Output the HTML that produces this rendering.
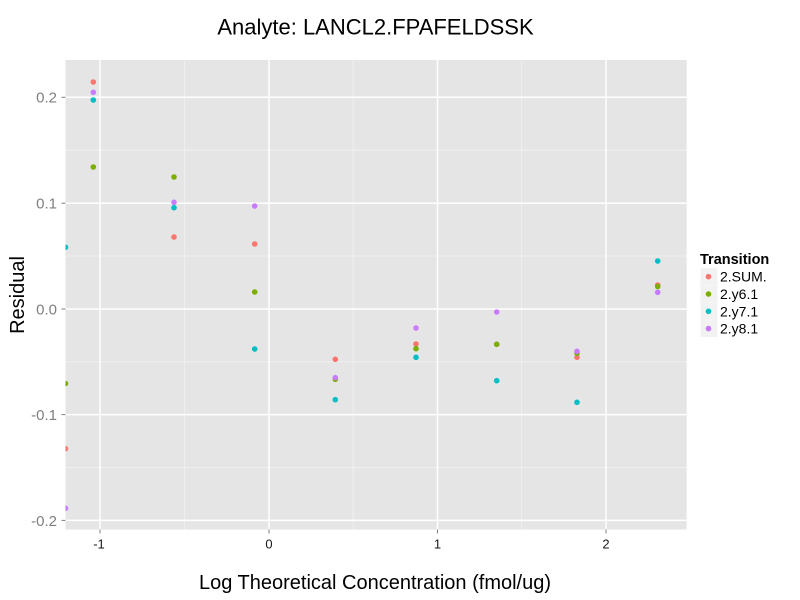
<!DOCTYPE html>
<html><head><meta charset="utf-8"><style>
html,body{margin:0;padding:0;background:#fff;}
svg{display:block;}
text{font-family:"Liberation Sans",Arial,sans-serif;}
</style></head><body>
<svg width="800" height="600" viewBox="0 0 800 600" xmlns="http://www.w3.org/2000/svg">
<defs><clipPath id="pc"><rect x="65.5" y="60" width="621.2" height="469.5"/></clipPath></defs>
<rect x="0" y="0" width="800" height="600" fill="#fff"/>
<rect x="65.5" y="60" width="621.2" height="469.5" fill="#E5E5E5"/>
<g stroke="#F2F2F2" stroke-width="0.8">
<line x1="65.5" x2="686.7" y1="150.2" y2="150.2"/>
<line x1="65.5" x2="686.7" y1="256" y2="256"/>
<line x1="65.5" x2="686.7" y1="361.9" y2="361.9"/>
<line x1="65.5" x2="686.7" y1="467.7" y2="467.7"/>
<line y1="60" y2="529.5" x1="184.5" x2="184.5"/>
<line y1="60" y2="529.5" x1="353.2" x2="353.2"/>
<line y1="60" y2="529.5" x1="521.7" x2="521.7"/>
</g>
<g stroke="#FFFFFF" stroke-width="1.5">
<line x1="65.5" x2="686.7" y1="97.3" y2="97.3"/>
<line x1="65.5" x2="686.7" y1="203.2" y2="203.2"/>
<line x1="65.5" x2="686.7" y1="309" y2="309"/>
<line x1="65.5" x2="686.7" y1="414.6" y2="414.6"/>
<line x1="65.5" x2="686.7" y1="520.4" y2="520.4"/>
<line y1="60" y2="529.5" x1="100" x2="100"/>
<line y1="60" y2="529.5" x1="269" x2="269"/>
<line y1="60" y2="529.5" x1="437.5" x2="437.5"/>
<line y1="60" y2="529.5" x1="606" x2="606"/>
</g>
<g clip-path="url(#pc)">
<g fill="#F8766D">
<circle cx="65.5" cy="448.7" r="2.8"/>
<circle cx="93.3" cy="82" r="2.8"/>
<circle cx="174" cy="237" r="2.8"/>
<circle cx="254.7" cy="244" r="2.8"/>
<circle cx="335.3" cy="359.3" r="2.8"/>
<circle cx="416" cy="344" r="2.8"/>
<circle cx="496.7" cy="344.3" r="2.8"/>
<circle cx="577" cy="357.3" r="2.8"/>
<circle cx="657.7" cy="285" r="2.8"/>
</g>
<g fill="#7CAE00">
<circle cx="65.5" cy="383.5" r="2.8"/>
<circle cx="93.3" cy="167" r="2.8"/>
<circle cx="174" cy="177" r="2.8"/>
<circle cx="254.7" cy="292" r="2.8"/>
<circle cx="335.3" cy="379.3" r="2.8"/>
<circle cx="416" cy="348.7" r="2.8"/>
<circle cx="496.7" cy="344.3" r="2.8"/>
<circle cx="577" cy="353.3" r="2.8"/>
<circle cx="657.7" cy="286.5" r="2.8"/>
</g>
<g fill="#00BFC4">
<circle cx="65.5" cy="247.3" r="2.8"/>
<circle cx="93.3" cy="100" r="2.8"/>
<circle cx="174" cy="207.7" r="2.8"/>
<circle cx="254.7" cy="349" r="2.8"/>
<circle cx="335.3" cy="399.7" r="2.8"/>
<circle cx="416" cy="357.3" r="2.8"/>
<circle cx="496.7" cy="380.7" r="2.8"/>
<circle cx="577" cy="402.3" r="2.8"/>
<circle cx="657.7" cy="261" r="2.8"/>
</g>
<g fill="#C77CFF">
<circle cx="65.5" cy="508.3" r="2.8"/>
<circle cx="93.3" cy="92.3" r="2.8"/>
<circle cx="174" cy="202.3" r="2.8"/>
<circle cx="254.7" cy="206" r="2.8"/>
<circle cx="335.3" cy="377.7" r="2.8"/>
<circle cx="416" cy="328" r="2.8"/>
<circle cx="496.7" cy="312" r="2.8"/>
<circle cx="577" cy="351.3" r="2.8"/>
<circle cx="657.7" cy="292.3" r="2.8"/>
</g>
</g>
<g stroke="#7F7F7F" stroke-width="1">
<line x1="61.5" x2="65.5" y1="97.3" y2="97.3"/>
<line x1="61.5" x2="65.5" y1="203.2" y2="203.2"/>
<line x1="61.5" x2="65.5" y1="309" y2="309"/>
<line x1="61.5" x2="65.5" y1="414.6" y2="414.6"/>
<line x1="61.5" x2="65.5" y1="520.4" y2="520.4"/>
<line y1="529.5" y2="533.5" x1="100" x2="100"/>
<line y1="529.5" y2="533.5" x1="269" x2="269"/>
<line y1="529.5" y2="533.5" x1="437.5" x2="437.5"/>
<line y1="529.5" y2="533.5" x1="606" x2="606"/>
</g>
<g font-size="15" fill="#7F7F7F" text-anchor="end">
<text x="57" y="102.7">0.2</text>
<text x="57" y="208.6">0.1</text>
<text x="57" y="314.4">0.0</text>
<text x="57" y="420">-0.1</text>
<text x="57" y="525.8">-0.2</text>
</g>
<g font-size="13" fill="#1a1a1a" text-anchor="middle">
<text x="99" y="548.7">-1</text>
<text x="269" y="548.7">0</text>
<text x="437.5" y="548.7">1</text>
<text x="606" y="548.7">2</text>
</g>
<text x="375.5" y="34.3" font-size="22" text-anchor="middle" fill="#000">Analyte: LANCL2.FPAFELDSSK</text>
<text x="375" y="589" font-size="20" text-anchor="middle" fill="#000">Log Theoretical Concentration (fmol/ug)</text>
<text transform="translate(24,295) rotate(-90)" font-size="20" text-anchor="middle" fill="#000">Residual</text>
<text x="700" y="264" font-size="14.5" font-weight="bold" fill="#000">Transition</text>
<g fill="#F2F2F2">
<rect x="700.5" y="268.2" width="17" height="17"/>
<rect x="700.5" y="285.5" width="17" height="17"/>
<rect x="700.5" y="302.8" width="17" height="17"/>
<rect x="700.5" y="320.1" width="17" height="17"/>
</g>
<circle cx="708.5" cy="276.7" r="2.8" fill="#F8766D"/>
<circle cx="708.5" cy="294" r="2.8" fill="#7CAE00"/>
<circle cx="708.5" cy="311.3" r="2.8" fill="#00BFC4"/>
<circle cx="708.5" cy="328.6" r="2.8" fill="#C77CFF"/>
<g font-size="14" fill="#000">
<text x="720" y="281.7">2.SUM.</text>
<text x="720" y="299">2.y6.1</text>
<text x="720" y="316.3">2.y7.1</text>
<text x="720" y="333.6">2.y8.1</text>
</g>
</svg>
</body></html>
